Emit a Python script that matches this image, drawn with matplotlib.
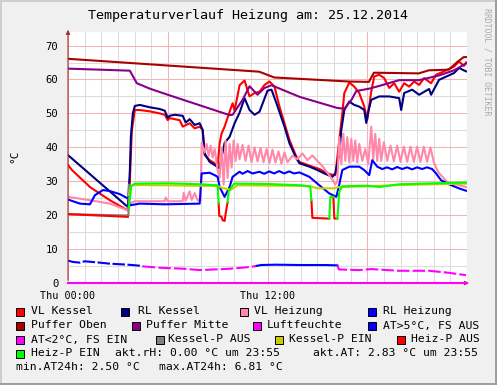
import numpy as np
import matplotlib
matplotlib.use("Agg")
import matplotlib.pyplot as plt
from matplotlib.patches import Rectangle

nan = np.nan

# ---- data (hours since 00:00, degC) ----
vl_kessel_h = [0, 0.24, 1.32, 2.52, 3.6, 3.72, 3.84, 4.02, 4.32, 4.92, 5.52, 5.82, 6.0, 6.12,
               6.72, 6.9, 7.32, 7.62, 7.92, 8.1, 8.22, 8.52, 8.82, 9.0, 9.12, 9.24, 9.42, 9.72,
               9.9, 10.02, 10.32, 10.62, 10.92, 11.22, 11.52, 11.82, 12.12, 12.42, 12.72, 13.02,
               13.32, 13.74, 13.92, 14.52, 15.12, 15.72, 16.08, 16.32, 16.5, 16.62, 16.92, 17.22,
               17.52, 17.82, 18.0, 18.24, 18.42, 18.72, 19.02, 19.32, 19.62, 19.92, 20.22, 20.52,
               20.82, 21.12, 21.42, 21.84, 22.14, 22.62, 23.22, 23.52, 23.82, 23.94]
vl_kessel_v = [34.8, 33.3, 28.3, 24.4, 21.4, 30, 45, 51, 51, 50.6, 50, 49.6, 48, 48.6,
               48, 46.1, 47.1, 45.6, 46.1, 45.1, 37.7, 36.2, 35.3, 34.3, 41.2, 44.1, 46.1, 50.5,
               53, 50.8, 58.3, 59.7, 55, 56, 56.4, 58.4, 59.4, 57.9, 52, 47.1,
               42.2, 37.2, 35.7, 34.6, 33.6, 32.1, 31.8, 42.2, 50, 56, 59.1, 57.9,
               56, 52, 48.1, 56.4, 60.9, 61.4, 60.4, 57.5, 58.9, 56.4, 58.9, 57.9,
               59.4, 58.4, 60.4, 58.9, 61.4, 62.4, 63.8, 65.3, 64, 65]

rl_kessel_h = [0, 3.6, 3.72, 3.78, 3.9, 4.02, 4.32, 4.92, 5.52, 5.82, 6.0, 6.12, 6.42, 6.9,
               7.08, 7.32, 7.62, 7.92, 8.1, 8.22, 8.52, 8.82, 9.12, 9.24, 9.42, 9.72, 10.02,
               10.32, 10.62, 10.92, 11.22, 11.52, 12.0, 12.24, 12.54, 13.02, 13.32, 13.74, 13.92,
               14.52, 15.0, 15.42, 15.9, 16.08, 16.32, 16.44, 16.62, 16.92, 17.22, 17.52, 17.82,
               17.94, 18.06, 18.24, 18.72, 19.32, 19.92, 20.04, 20.22, 20.7, 21.12, 21.72, 21.84,
               22.32, 23.22, 23.52, 23.94]
rl_kessel_v = [37.7, 22.4, 33, 43, 50, 52.2, 52.5, 51.8, 51.3, 50.8, 48.7, 49.3, 49.6, 49.3,
               47.3, 48.3, 46.6, 47.1, 45.1, 38.2, 35.7, 34.8, 33.8, 37.2, 41.3, 43.1, 47.1,
               50.2, 54.5, 51, 49.6, 50.5, 56.7, 57, 53, 46.1, 41.2, 36.7, 35.3,
               34.3, 33.3, 32.3, 31.3, 32.3, 38.2, 45.1, 51, 53.5, 52.5, 52, 51,
               47.2, 50.5, 54, 55, 55, 54.5, 51, 56, 57, 55.5, 57.2, 55.5,
               59.9, 61.9, 63.4, 62.4]

vl_heiz_h = [0, 1.32, 2.52, 3.6, 3.72, 4.02, 5.82, 5.88, 6.0, 6.9, 6.96, 7.08, 7.32, 7.44,
             7.62, 7.8, 7.98, 8.04, 8.22, 8.34, 8.46, 8.58, 8.7, 8.82, 9.0, 9.12, 9.24, 9.36,
             9.48, 9.6, 9.72, 9.84, 9.96, 10.08, 10.2, 10.32, 10.5, 10.68, 10.86, 11.04, 11.22,
             11.4, 11.58, 11.76, 11.94, 12.12, 12.3, 12.48, 12.66, 12.84, 13.02, 13.2, 13.5,
             13.8, 14.1, 14.4, 14.7, 15.0, 15.3, 15.6, 15.9, 16.08, 16.2, 16.32, 16.44, 16.56,
             16.68, 16.8, 16.92, 17.04, 17.16, 17.28, 17.4, 17.52, 17.7, 17.88, 18.06, 18.24,
             18.36, 18.48, 18.6, 18.72, 18.84, 19.0, 19.2, 19.4, 19.6, 19.8, 20.0, 20.2, 20.4,
             20.6, 20.8, 21.0, 21.2, 21.4, 21.6, 21.8, 22.0, 22.14, 22.32, 22.8, 23.4, 23.94]
vl_heiz_v = [25.4, 24.4, 23.4, 21.4, 23.5, 24.1, 24.1, 25.2, 24.1, 24.1, 26.6, 24.3, 27, 24.5,
             26.5, 24.4, 24.4, 41.3, 38.5, 41, 37.5, 40.5, 37, 39.5, 33.3, 31, 40, 29,
             42, 31, 41, 34, 42, 36, 41, 36.5, 40.7, 36, 40.5, 35.6, 40,
             35.8, 39.8, 35.6, 39.5, 35.4, 39.3, 35.5, 38.8, 35.2, 38.5, 35.6, 37.5,
             36.5, 38.2, 36.2, 37.6, 36.0, 34.5, 32.5, 30.5, 29, 30, 43, 35, 44,
             36, 43, 35.5, 42.5, 36, 42, 35.5, 41, 36, 39.5, 35, 46.1,
             36.5, 44, 36, 42.5, 36, 41.5, 36, 40.5, 35.8, 40.5, 35.7, 40.2, 35.7,
             40.2, 35.7, 40.2, 35.7, 40.2, 35.7, 40, 35.7, 34, 32.4, 29.8, 29, 28.3]

rl_heiz_h = [0, 0.72, 1.32, 1.62, 2.1, 2.52, 3.12, 3.6, 3.72, 4.32, 5.82, 6.9, 7.92, 8.04,
             8.52, 8.82, 9.0, 9.12, 9.42, 9.72, 9.9, 10.32, 10.5, 10.8, 11.1, 11.52, 11.8,
             12.1, 12.4, 12.7, 13.0, 13.3, 13.6, 13.92, 14.52, 15.12, 15.72, 16.14, 16.32,
             16.5, 16.92, 17.52, 17.82, 18.12, 18.3, 18.6, 18.9, 19.2, 19.5, 19.8, 20.1, 20.4,
             20.7, 21.0, 21.3, 21.6, 21.9, 22.14, 22.44, 22.92, 23.52, 23.94]
rl_heiz_v = [24.6, 23.4, 23.2, 25.9, 27.4, 27.1, 26.2, 24.9, 22.9, 23.4, 23.2, 23.3, 23.4, 32.3,
             32.5, 31.8, 31.3, 28.3, 25.4, 28.3, 31.3, 32.8, 32.2, 33.0, 32.3, 32.8, 32.2,
             32.9, 32.3, 33, 32.3, 32.9, 32.3, 32.6, 31.3, 28.8, 26.4, 25.4, 29.1,
             33.3, 34.3, 34.3, 33.3, 31.8, 36.2, 34.3, 33.6, 34.1, 33.5, 34.2, 33.6, 34.1,
             33.5, 34.1, 33.6, 34.1, 33.6, 32.3, 30.3, 29.1, 27.9, 27.2]

puffer_oben_h = [0, 11.5, 12.4, 13.9, 16.9, 18.1, 18.4, 21.1, 21.7, 22.9, 23.2, 23.4, 23.8, 24]
puffer_oben_v = [66.1, 62.3, 60.6, 60.2, 59.4, 59.3, 62.0, 61.8, 62.7, 62.9, 64.2, 65.1, 66.6, 66.6]

puffer_mitte_h = [0, 3.72, 3.9, 4.14, 4.92, 5.94, 7.92, 9.72, 9.9, 10.5, 10.92, 11.4, 11.82,
                  12.24, 13.92, 16.2, 16.62, 17.04, 17.34, 18.12, 18.72, 19.92, 21.12, 22.32,
                  23.22, 23.94]
puffer_mitte_v = [63.2, 62.6, 61, 58.9, 57.3, 55.6, 52.4, 49.5, 49.6, 54, 58, 55.5, 57.5,
                  58.3, 54.9, 51.6, 51.4, 53.9, 56.6, 57.3, 58.1, 59.8, 59.8, 61.2,
                  62.7, 64.7]

luftfeuchte_h = [0, 24]
luftfeuchte_v = [0, 0]

at_hi_h = [0, 0.3, 0.72, 1.0, 1.92, 2.5, 3.6, 4.32, 4.5]
at_hi_v = [6.6, 6.2, 6.0, 6.4, 6.0, 5.7, 5.4, 5.1, 4.9]
at_hi2_h = [11.3, 11.6, 12.5, 14, 15.5, 16.2]
at_hi2_v = [5.0, 5.3, 5.4, 5.3, 5.3, 5.2]
at_lo_h = [4.5, 5.52, 7.0, 7.92, 9.72, 10.92, 11.3, nan, 16.2, 16.3, 17.5, 18.24, 19.92,
           21.72, 22.92, 23.94]
at_lo_v = [4.9, 4.5, 4.2, 3.8, 4.2, 4.7, 5.0, nan, 5.2, 4.0, 3.8, 4.1, 3.6,
           3.6, 3.0, 2.3]

kp_aus_h = [0, 3.6, 3.64, 3.66]
kp_aus_v = [20.3, 19.9, 19.9, 29]
kp_ein_h = [3.66, 3.8, 4.0, 9.0, 9.3, 9.8, 10.2, 14.5, 15.0, 16.0, 16.3, 18.0, 20.0, 23.94]
kp_ein_v = [26, 28.6, 28.9, 28.6, 28.0, 27.5, 28.8, 28.6, 27.9, 27.9, 28.3, 28.5, 28.9, 29.3]

hp_aus_h = [0, 3.6, nan, 9.06, 9.1, 9.24, 9.3, 9.42, 9.5, 9.6, nan,
            14.64, 14.7, 15.66, 15.72, nan, 15.96, 16.02, 16.2]
hp_aus_v = [20.3, 19.5, nan, 23.5, 19.8, 19.5, 18.5, 18.3, 21, 23.8, nan,
            24.4, 19.2, 19.0, 19.0, nan, 25.4, 19.0, 19.0]
hp_ein_h = [3.66, 3.8, 4.0, 6.0, 8.0, 9.0, 9.06, nan, 9.6, 9.66, 9.84, 10.0, 12.0, 14.0,
            14.58, 14.64, nan, 15.72, 15.78, 15.96, nan, 16.2, 16.32, 16.5, 18.0, 18.72,
            19.92, 22.0, 23.94]
hp_ein_v = [22, 28.5, 29.3, 29.4, 29.1, 28.8, 23.5, nan, 23.8, 27, 28.3, 29.3, 29.2, 28.8,
            28.4, 24.4, nan, 19, 25.4, 25.4, nan, 19.0, 27, 28.5, 28.7, 28.3,
            29.1, 29.4, 29.6]

legend_rows = [
    [("VL Kessel", "#FF0000", 16, 31), ("RL Kessel", "#000080", 121, 138),
     ("VL Heizung", "#FF88AA", 240, 254), ("RL Heizung", "#0000FF", 368, 383)],
    [("Puffer Oben", "#AA0000", 16, 31), ("Puffer Mitte", "#880088", 132, 146),
     ("Luftfeuchte", "#FF00FF", 253, 267), ("AT>5°C, FS AUS", "#0000FF", 368, 383)],
    [("AT<2°C, FS EIN", "#FF00FF", 16, 31), ("Kessel-P AUS", "#808080", 156, 168),
     ("Kessel-P EIN", "#CCCC00", 275, 289), ("Heiz-P AUS", "#FF0000", 397, 411)],
    [("Heiz-P EIN", "#00FF00", 16, 31)],
]
info_texts = [("akt.rH: 0.00 °C um 23:55", 115, 3), ("akt.AT: 2.83 °C um 23:55", 313, 3),
              ("min.AT24h: 2.50 °C", 16, 4), ("max.AT24h: 6.81 °C", 159, 4)]
row_y = [311.5, 325.5, 339.5, 353.5, 367.5]

W, H = 497, 385
plt.rcParams['font.family'] = ['DejaVu Sans Mono']


def fx(x):
    return x / W


def fy(y):
    return 1 - y / H


fig = plt.figure(figsize=(W / 100, H / 100), dpi=100, facecolor="#F0F0F0")
ax = fig.add_axes([fx(68), fy(283), 399 / W, 251 / H])
ax.set_facecolor("white")
ax.set_xlim(0, 24)
ax.set_ylim(0, 74)

# grid
ax.set_xticks(np.arange(0, 25, 1), minor=True)
ax.set_yticks(np.arange(0, 75, 5), minor=True)
ax.set_xticks([0, 6, 12, 18, 24])
ax.set_yticks(np.arange(0, 71, 10))
ax.grid(which="minor", color="#DCDCDC", lw=0.75)
ax.grid(which="major", color="#F4B4B4", lw=0.75)
ax.set_axisbelow(True)
ax.tick_params(which="both", length=0)
ax.tick_params(axis="y", pad=7, labelsize=7.6)
ax.tick_params(axis="x", pad=6, labelsize=7.3)
ax.set_xticklabels(["Thu 00:00", "", "Thu 12:00", "", ""])
for s in ax.spines.values():
    s.set_visible(False)

lw = 1.5
ax.plot(vl_kessel_h, vl_kessel_v, color="#FF0000", lw=lw)
ax.plot(rl_kessel_h, rl_kessel_v, color="#000080", lw=lw)
ax.plot(vl_heiz_h, vl_heiz_v, color="#FF88AA", lw=lw)
ax.plot(rl_heiz_h, rl_heiz_v, color="#0000FF", lw=lw)
ax.plot(puffer_oben_h, puffer_oben_v, color="#AA0000", lw=lw)
ax.plot(puffer_mitte_h, puffer_mitte_v, color="#880088", lw=lw)
ax.plot(luftfeuchte_h, luftfeuchte_v, color="#FF00FF", lw=lw, clip_on=False, zorder=5)
ax.plot(at_hi_h, at_hi_v, color="#0000FF", lw=lw, ls=(0, (6, 1.2)))
ax.plot(at_hi2_h, at_hi2_v, color="#0000FF", lw=lw)
ax.plot(at_lo_h, at_lo_v, color="#FF00FF", lw=lw, ls=(0, (6, 1.5)))
ax.plot(kp_aus_h, kp_aus_v, color="#808080", lw=lw)
ax.plot(kp_ein_h, kp_ein_v, color="#CCCC00", lw=lw)
ax.plot(hp_aus_h, hp_aus_v, color="#FF0000", lw=lw)
ax.plot(hp_ein_h, hp_ein_v, color="#00FF00", lw=lw)

# axes with arrows
axis_col = "#A03030"
ax.annotate("", xy=(0, 1.02), xytext=(0, 0), xycoords="axes fraction",
            arrowprops=dict(arrowstyle="-|>", color=axis_col, lw=0.8, mutation_scale=6),
            annotation_clip=False)
ax.annotate("", xy=(1.012, 0), xytext=(0, 0), xycoords="axes fraction",
            arrowprops=dict(arrowstyle="-|>", color=axis_col, lw=0.8, mutation_scale=6),
            annotation_clip=False)

# titles
fig.text(fx(248), fy(16), "Temperaturverlauf Heizung am: 25.12.2014", ha="center",
         va="center", fontsize=9.6)
fig.text(fx(14), fy(156), "°C", rotation=90, ha="center", va="center", fontsize=8)
fig.text(fx(487), fy(62), "RRDTOOL / TOBI OETIKER", rotation=270, ha="center",
         va="center", fontsize=5.9, color="#AAAAAA")

# legend
for r, items in enumerate(legend_rows):
    for label, col, sx, tx in items:
        fig.add_artist(Rectangle((fx(sx), fy(row_y[r] + 4)), 8 / W, 8 / H, transform=fig.transFigure,
                                 facecolor=col, edgecolor="black", lw=0.7))
        fig.text(fx(tx), fy(row_y[r]), label, ha="left", va="center", fontsize=8.2)
for label, tx, r in info_texts:
    fig.text(fx(tx), fy(row_y[r]), label, ha="left", va="center", fontsize=8.2)

# border shading
fig.add_artist(Rectangle((0, fy(2)), 1, 2 / H, transform=fig.transFigure, color="#CECECE", lw=0))
fig.add_artist(Rectangle((0, 0), 2 / W, 1, transform=fig.transFigure, color="#CECECE", lw=0))
fig.add_artist(Rectangle((0, 0), 1, 2 / H, transform=fig.transFigure, color="#9E9E9E", lw=0))
fig.add_artist(Rectangle((fx(495), 0), 2 / W, 1, transform=fig.transFigure, color="#9E9E9E", lw=0))

fig.savefig("out.png", dpi=100, facecolor=fig.get_facecolor())
